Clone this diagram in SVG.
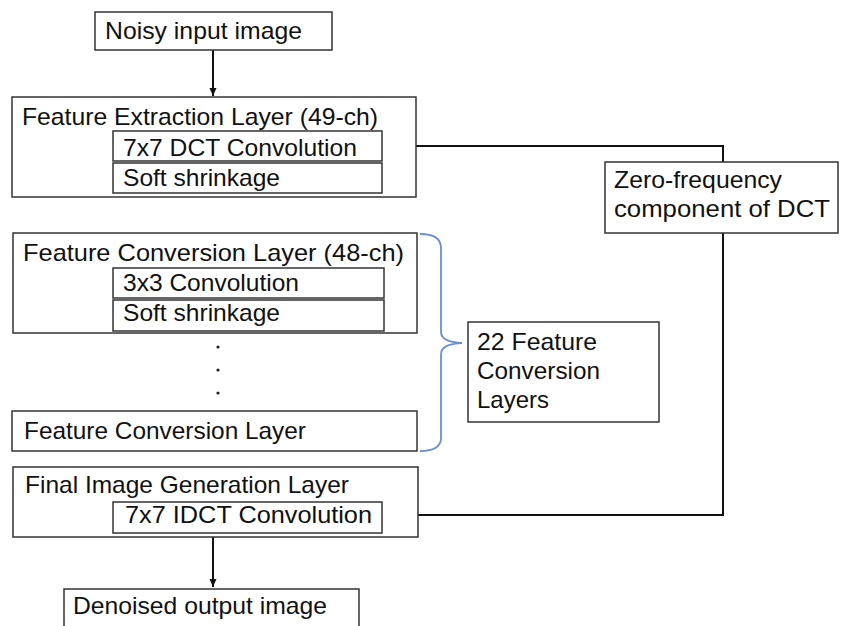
<svg xmlns="http://www.w3.org/2000/svg" width="842" height="626" viewBox="0 0 842 626">
  <defs>
    <marker id="arrow" markerWidth="10" markerHeight="10" refX="9" refY="5" orient="auto" markerUnits="userSpaceOnUse">
      <path d="M1,1.5 L9,5 L1,8.5 Z" fill="#111"/>
    </marker>
    <style>
      .box { fill: #fff; stroke: #333; stroke-width: 1.5; }
      .lbl { font-family: "Liberation Sans", Arial, sans-serif; font-size: 24px; fill: #111; }
      .conn { fill: none; stroke: #111; stroke-width: 2; }
      .brace { fill: none; stroke: #6b8fd6; stroke-width: 1.8; }
      .dot { fill: #222; }
    </style>
  </defs>
  <rect width="842" height="626" fill="#fff"/>

  <!-- connectors -->
  <g id="connectors">
    <line class="conn" x1="213" y1="50" x2="213" y2="96" marker-end="url(#arrow)"/>
    <polyline class="conn" points="382,146 723,146 723,162"/>
    <polyline class="conn" points="723,233 723,515 394,515" marker-end="url(#arrow)"/>
    <line class="conn" x1="213" y1="537" x2="213" y2="587" marker-end="url(#arrow)"/>
  </g>

  <g id="noisy-input">
    <rect class="box" x="95" y="12" width="237" height="38"/>
    <text class="lbl" x="105" y="39" textLength="197" lengthAdjust="spacingAndGlyphs">Noisy input image</text>
  </g>

  <g id="feature-extraction">
    <rect class="box" x="12" y="97" width="404" height="100"/>
    <text class="lbl" x="22" y="125" textLength="356" lengthAdjust="spacingAndGlyphs">Feature Extraction Layer (49-ch)</text>
    <rect class="box" x="113" y="131" width="269" height="30"/>
    <text class="lbl" x="123" y="156" textLength="234" lengthAdjust="spacingAndGlyphs">7x7 DCT Convolution</text>
    <rect class="box" x="113" y="163" width="269" height="30"/>
    <text class="lbl" x="123" y="186" textLength="157" lengthAdjust="spacingAndGlyphs">Soft shrinkage</text>
  </g>

  <g id="zero-frequency">
    <rect class="box" x="605" y="162" width="233" height="71"/>
    <text class="lbl" x="614" y="188" textLength="168" lengthAdjust="spacingAndGlyphs">Zero-frequency</text>
    <text class="lbl" x="614" y="217" textLength="216" lengthAdjust="spacingAndGlyphs">component of DCT</text>
  </g>

  <g id="feature-conversion-1">
    <rect class="box" x="13" y="233" width="404" height="100"/>
    <text class="lbl" x="23" y="261" textLength="381" lengthAdjust="spacingAndGlyphs">Feature Conversion Layer (48-ch)</text>
    <rect class="box" x="113" y="268" width="271" height="30"/>
    <text class="lbl" x="123" y="291" textLength="176" lengthAdjust="spacingAndGlyphs">3x3 Convolution</text>
    <rect class="box" x="113" y="300" width="271" height="31"/>
    <text class="lbl" x="123" y="321" textLength="157" lengthAdjust="spacingAndGlyphs">Soft shrinkage</text>
  </g>

  <g id="ellipsis">
    <circle class="dot" cx="218" cy="347" r="1.6"/>
    <circle class="dot" cx="218" cy="370" r="1.6"/>
    <circle class="dot" cx="218" cy="393" r="1.6"/>
  </g>

  <g id="feature-conversion-n">
    <rect class="box" x="12" y="411" width="405" height="40"/>
    <text class="lbl" x="24" y="439" textLength="282" lengthAdjust="spacingAndGlyphs">Feature Conversion Layer</text>
  </g>

  <g id="brace">
    <path class="brace" d="M420,234 Q441,234 441,248 L441,332 Q441,342 462,343 Q441,344 441,354 L441,438 Q441,451 420,451"/>
  </g>

  <g id="conversion-count">
    <rect class="box" x="468" y="322" width="191" height="100"/>
    <text class="lbl" x="477" y="350" textLength="120" lengthAdjust="spacingAndGlyphs">22 Feature</text>
    <text class="lbl" x="477" y="379" textLength="123" lengthAdjust="spacingAndGlyphs">Conversion</text>
    <text class="lbl" x="477" y="408" textLength="72" lengthAdjust="spacingAndGlyphs">Layers</text>
  </g>

  <g id="final-generation">
    <rect class="box" x="13" y="467" width="405" height="70"/>
    <text class="lbl" x="25" y="493" textLength="324" lengthAdjust="spacingAndGlyphs">Final Image Generation Layer</text>
    <rect class="box" x="113" y="502" width="269" height="31"/>
    <text class="lbl" x="125" y="523" textLength="247" lengthAdjust="spacingAndGlyphs">7x7 IDCT Convolution</text>
  </g>

  <g id="denoised-output">
    <rect class="box" x="64" y="589" width="295" height="45"/>
    <text class="lbl" x="73" y="614" textLength="254" lengthAdjust="spacingAndGlyphs">Denoised output image</text>
  </g>
</svg>
